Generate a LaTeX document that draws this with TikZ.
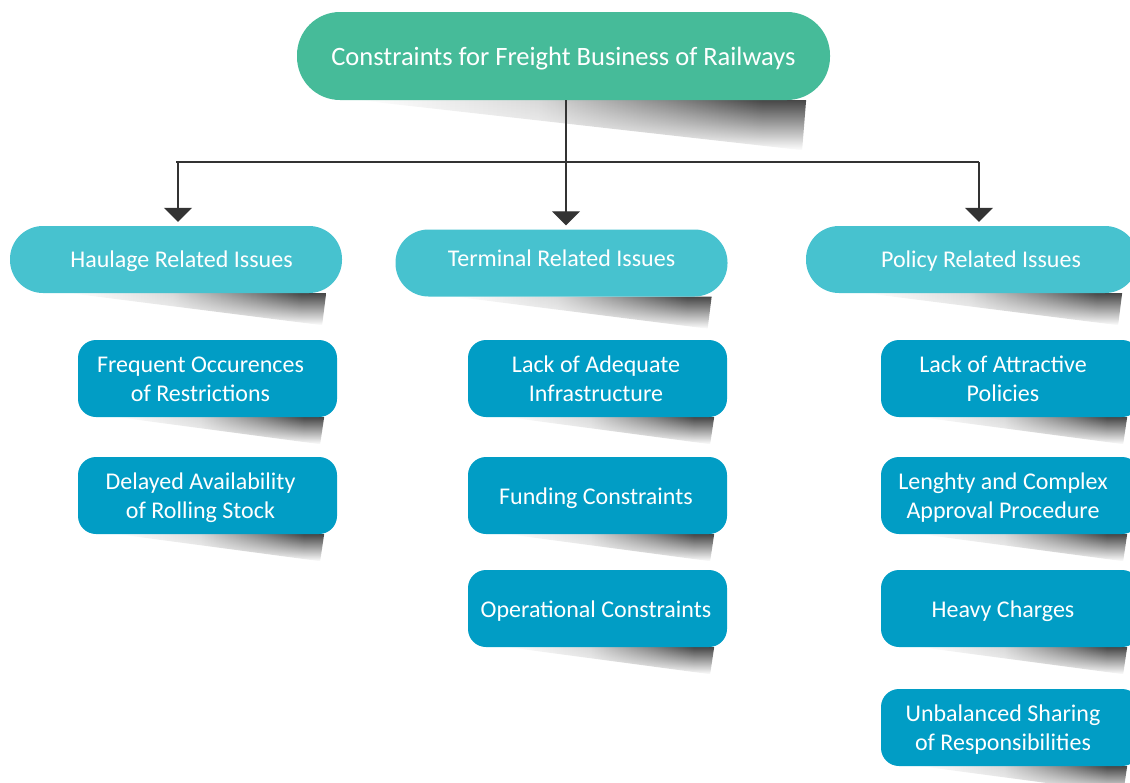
\documentclass[tikz,border=0pt]{standalone}
\usepackage{fontspec}
\setmainfont{Carlito}
\usetikzlibrary{arrows.meta,backgrounds,fadings}
\definecolor{rootgreen}{HTML}{46BB99}
\definecolor{groupcyan}{HTML}{47C2CF}
\definecolor{itemblue}{HTML}{019DC5}
\definecolor{arrowgray}{HTML}{333333}
\pgfdeclarehorizontalshading{curlshading}{100bp}{color(0bp)=(white); color(25bp)=(white);
  color(45bp)=(black!15); color(60bp)=(black!48); color(70bp)=(black!72); color(100bp)=(black!72)}
\tikzset{
  boxtext/.style={text=white, align=center, inner sep=0pt, font=\fontsize{24}{29}\selectfont},
  rootbox/.style={boxtext, fill=rootgreen, rounded corners=43pt, minimum width=533pt, minimum height=88pt,
    font=\fontsize{26.5}{32}\selectfont},
  groupbox/.style={boxtext, fill=groupcyan, rounded corners=33pt, minimum width=332pt, minimum height=67pt},
  itembox/.style={boxtext, fill=itemblue, rounded corners=18pt, minimum width=259pt, minimum height=77pt},
  link/.style={line width=1.3pt, arrowgray},
  arr/.style={link, -{Triangle[width=28pt,length=14pt]}, shorten >=4pt}
}
% curled shadow under a box: node, left inset, right inset, depth
\newcommand{\curlshade}[4]{
  \begin{scope}[on background layer]
    \shade[shading=curlshading, path fading=south]
      ([xshift=#2]#1.south west) -- ([xshift=-#3+4pt]#1.south east)
      -- ([xshift=-#3,yshift=-#4]#1.south east) -- cycle;
  \end{scope}
}
% text moved inside a box: dx, dy, lines
\newcommand{\moved}[3]{\hspace*{#1}\raisebox{#2}[\height][\depth]{\begin{tabular}{@{}c@{}}#3\end{tabular}}}
\begin{document}
\begin{tikzpicture}[x=1pt,y=-1pt]
\useasboundingbox (0,0) rectangle (1130,782);

\node[rootbox] (root) at (563.5,56) {\moved{0pt}{-3pt}{Constraints for Freight Business of Railways}};
\curlshade{root}{62pt}{28pt}{50pt}

\node[groupbox] (haul) at (176,259.5) {\moved{11pt}{-2pt}{Haulage Related Issues}};
\node[groupbox] (term) at (561.5,263) {\moved{0pt}{2pt}{Terminal Related Issues}};
\node[groupbox] (pol) at (972,259.5) {\moved{18pt}{-2pt}{Policy Related Issues}};
\foreach \g in {haul,term,pol}
  \curlshade{\g}{60pt}{20pt}{32pt};

\coordinate (split) at (566,162);
\draw[link] (root.south -| split) -- (split);
\draw[link] (haul.north |- split) -- (979,162);
\draw[arr] (split) -- (term.north -| split);
\draw[arr] (split -| 178,0) -- (haul.north -| 178,0);
\draw[arr] (split -| 979,0) -- (pol.north -| 979,0);

\foreach \y/\t/\n in {378.5/{Frequent Occurences\\of Restrictions}/h1,
                     495.5/{Delayed Availability\\of Rolling Stock}/h2}
{
  \node[itembox] (\n) at (207.5,\y) {\moved{-14pt}{-3pt}{\t}};
  \curlshade{\n}{40pt}{17pt}{27pt}
}

\foreach \y/\t/\n in {378.5/{Lack of Adequate\\Infrastructure}/t1,
                     495.5/{Funding Constraints}/t2,
                     608.5/{Operational Constraints}/t3}
{
  \node[itembox] (\n) at (597.5,\y) {\moved{-3pt}{-3pt}{\t}};
  \curlshade{\n}{40pt}{17pt}{27pt}
}

\foreach \y/\t/\n in {378.5/{Lack of Attractive\\Policies}/p1,
                     495.5/{Lenghty and Complex\\Approval Procedure}/p2,
                     608.5/{Heavy Charges}/p3,
                     727.5/{Unbalanced Sharing\\of Responsibilities}/p4}
{
  \node[itembox] (\n) at (1010.5,\y) {\moved{-15pt}{-3pt}{\t}};
  \curlshade{\n}{40pt}{17pt}{27pt}
}
\end{tikzpicture}
\end{document}
